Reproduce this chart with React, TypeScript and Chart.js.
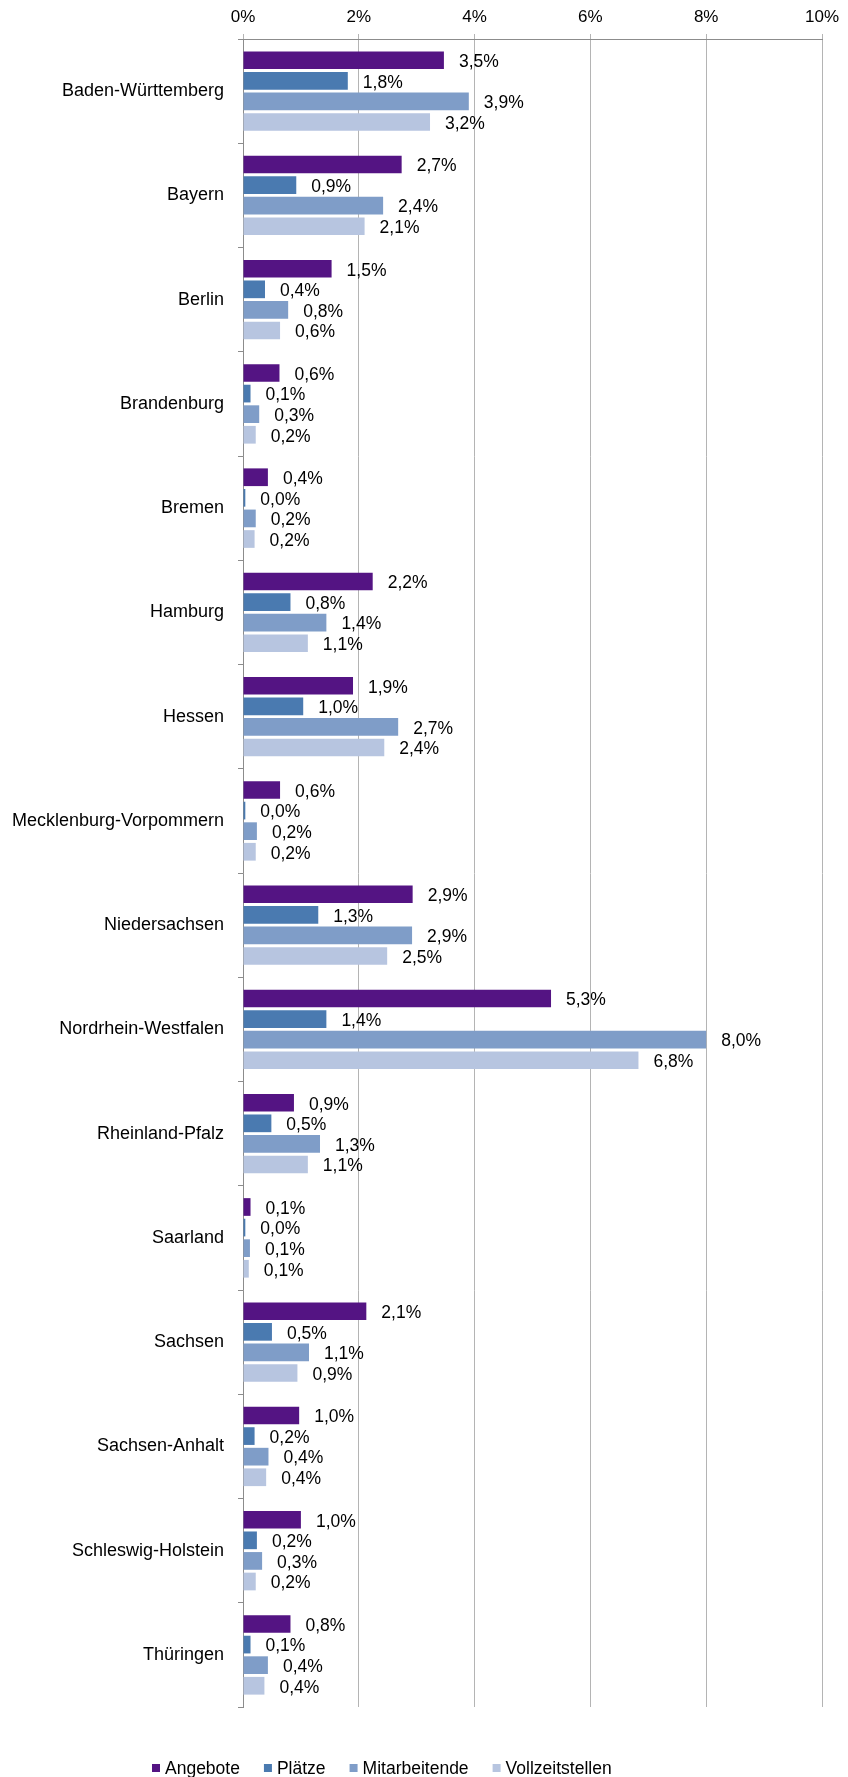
import { useEffect, useRef } from 'react';
import { Chart, registerables } from 'chart.js';

Chart.register(...registerables);

const categories = [
  'Baden-Württemberg',
  'Bayern',
  'Berlin',
  'Brandenburg',
  'Bremen',
  'Hamburg',
  'Hessen',
  'Mecklenburg-Vorpommern',
  'Niedersachsen',
  'Nordrhein-Westfalen',
  'Rheinland-Pfalz',
  'Saarland',
  'Sachsen',
  'Sachsen-Anhalt',
  'Schleswig-Holstein',
  'Thüringen',
];

const seriesNames = ['Angebote', 'Plätze', 'Mitarbeitende', 'Vollzeitstellen'];
const seriesColors = ['#541483', '#4a7ab0', '#7f9dc8', '#b7c5e0'];

const angebote = [3.47, 2.74, 1.53, 0.63, 0.43, 2.24, 1.9, 0.64, 2.93, 5.32, 0.88, 0.13, 2.13, 0.97, 1.0, 0.82];
const plaetze = [1.81, 0.92, 0.38, 0.13, 0.04, 0.82, 1.04, 0.04, 1.3, 1.44, 0.49, 0.04, 0.5, 0.2, 0.24, 0.13];
const mitarbeitende = [3.9, 2.42, 0.78, 0.28, 0.22, 1.44, 2.68, 0.24, 2.92, 8.0, 1.33, 0.12, 1.14, 0.44, 0.33, 0.43];
const vollzeitstellen = [3.23, 2.1, 0.64, 0.22, 0.2, 1.12, 2.44, 0.22, 2.49, 6.83, 1.12, 0.1, 0.94, 0.4, 0.22, 0.37];

const xTicks = [0, 2, 4, 6, 8, 10];

const FONT = '"Liberation Sans", Arial, sans-serif';

const fmt = (v: number) => v.toFixed(1).replace('.', ',') + '%';

const dataLabelPlugin = {
  id: 'dataLabels',
  afterDatasetsDraw(chart: any) {
    const ctx = chart.ctx;
    ctx.save();
    ctx.font = `17.5px ${FONT}`;
    ctx.fillStyle = '#000000';
    ctx.textAlign = 'left';
    ctx.textBaseline = 'middle';
    chart.data.datasets.forEach((ds: any, di: number) => {
      const meta = chart.getDatasetMeta(di);
      meta.data.forEach((bar: any, i: number) => {
        ctx.fillText(fmt(ds.data[i]), bar.x + 15, bar.y + 2);
      });
    });
    ctx.restore();
  },
};

const legendPlugin = {
  id: 'customLegend',
  afterDraw(chart: any) {
    const ctx = chart.ctx;
    ctx.save();
    ctx.font = `17.5px ${FONT}`;
    ctx.textAlign = 'left';
    ctx.textBaseline = 'middle';
    const cy = chart.chartArea.bottom + 61;
    let x = 152;
    chart.data.datasets.forEach((ds: any) => {
      ctx.fillStyle = ds.backgroundColor;
      ctx.fillRect(x, cy - 4, 8, 8);
      ctx.fillStyle = '#000000';
      ctx.fillText(ds.label, x + 13, cy + 1);
      x += 13 + ctx.measureText(ds.label).width + 24;
    });
    ctx.restore();
  },
};

export default function App() {
  const ref = useRef<HTMLCanvasElement | null>(null);

  useEffect(() => {
    document.body.style.margin = '0';
    const canvas = ref.current;
    if (!canvas) return;
    const values = [angebote, plaetze, mitarbeitende, vollzeitstellen];
    const chart = new Chart(canvas, {
      type: 'bar',
      data: {
        labels: categories,
        datasets: seriesNames.map((name, i) => ({
          label: name,
          data: values[i],
          backgroundColor: seriesColors[i],
          borderWidth: 0,
          categoryPercentage: 0.79,
          barPercentage: 0.86,
        })),
      },
      options: {
        indexAxis: 'y',
        animation: false,
        responsive: false,
        maintainAspectRatio: false,
        layout: { padding: { top: 0, left: 0, right: 26, bottom: 70 } },
        plugins: {
          legend: { display: false },
          tooltip: { enabled: false },
        },
        scales: {
          x: {
            type: 'linear',
            position: 'top',
            min: 0,
            max: 10,
            afterBuildTicks: (scale: any) => {
              scale.ticks = xTicks.map((v) => ({ value: v }));
            },
            afterFit: (scale: any) => {
              scale.height = 39;
            },
            ticks: {
              font: { family: FONT, size: 17 },
              color: '#000000',
              padding: 6,
              callback: (v: any) => `${v}%`,
            },
            grid: {
              color: '#b4b4b4',
              lineWidth: 1,
              drawTicks: true,
              tickLength: 5,
            },
            border: { display: true, color: '#8c8c8c', width: 1 },
          },
          y: {
            type: 'category',
            afterFit: (scale: any) => {
              scale.width = 243;
            },
            ticks: {
              font: { family: FONT, size: 18 },
              color: '#000000',
              padding: 14,
            },
            grid: {
              offset: true,
              drawOnChartArea: false,
              drawTicks: true,
              tickLength: 5,
              color: '#8c8c8c',
            },
            border: { display: true, color: '#8c8c8c', width: 1 },
          },
        },
      },
      plugins: [dataLabelPlugin, legendPlugin],
    } as any);
    return () => chart.destroy();
  }, []);

  return (
    <div style={{ width: 848, height: 1777 }}>
      <canvas ref={ref} width={848} height={1777} style={{ display: 'block', width: 848, height: 1777 }} />
    </div>
  );
}
